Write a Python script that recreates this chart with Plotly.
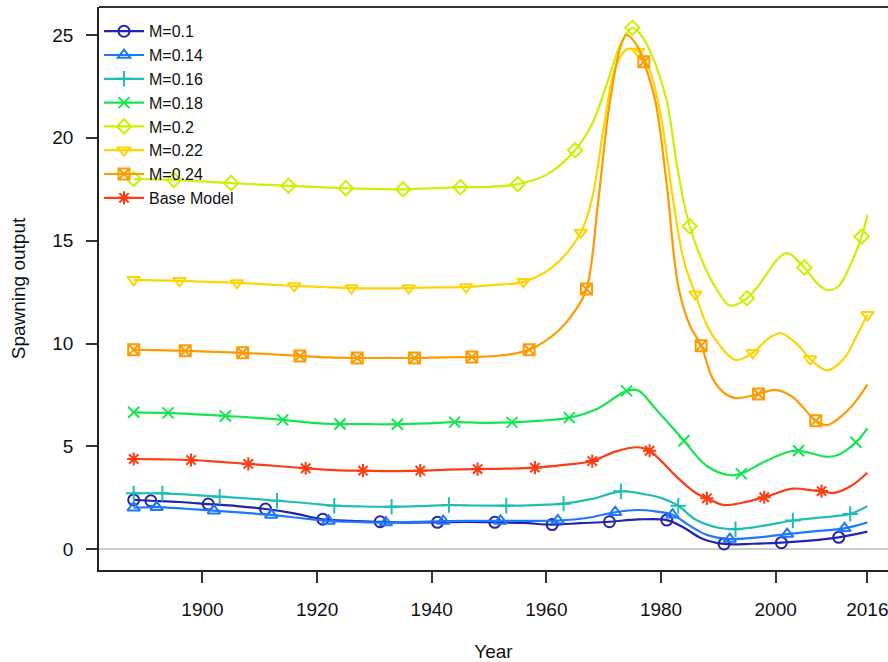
import plotly.graph_objects as go

# ---------------- data ----------------
series_names = ["M=0.1", "M=0.14", "M=0.16", "M=0.18", "M=0.2", "M=0.22", "M=0.24", "Base Model"]
series_colors = ["#2323B0", "#1E78FF", "#20BDB5", "#14E650", "#CCF000", "#FFD400", "#FF9A00", "#FF3C14"]
series_symbols = ["circle-open", "triangle-up-open", "cross-thin-open", "x-thin-open",
                  "diamond-open", "triangle-down-open", "square-x-open", "asterisk-open"]

m010_years = [1888, 1891, 1896, 1901, 1906, 1911, 1916, 1921, 1926, 1931, 1936, 1941, 1946, 1951,
              1956, 1961, 1966, 1971, 1976, 1981, 1984, 1987, 1991, 1996, 2001, 2006, 2011, 2016]
m010_vals = [2.40, 2.36, 2.30, 2.20, 2.10, 1.96, 1.75, 1.46, 1.38, 1.34, 1.30, 1.31, 1.33, 1.31,
             1.28, 1.20, 1.27, 1.34, 1.45, 1.42, 1.05, 0.54, 0.26, 0.27, 0.32, 0.42, 0.58, 0.86]
m010_marks = [1888, 1891, 1901, 1911, 1921, 1931, 1941, 1951, 1961, 1971, 1981, 1991, 2001, 2011]

m014_years = [1888, 1892, 1897, 1902, 1907, 1912, 1917, 1922, 1927, 1932, 1937, 1942, 1947, 1952,
              1957, 1962, 1967, 1972, 1976, 1979, 1982, 1985, 1988, 1992, 1997, 2002, 2007, 2012, 2016]
m014_vals = [2.02, 2.05, 1.97, 1.88, 1.78, 1.67, 1.52, 1.38, 1.33, 1.30, 1.33, 1.37, 1.38, 1.38,
             1.38, 1.40, 1.52, 1.80, 1.91, 1.84, 1.68, 1.15, 0.70, 0.50, 0.58, 0.74, 0.88, 1.02, 1.30]
m014_marks = [1888, 1892, 1902, 1912, 1922, 1932, 1942, 1952, 1962, 1972, 1982, 1992, 2002, 2012]

m016_years = [1888, 1893, 1898, 1903, 1908, 1913, 1918, 1923, 1928, 1933, 1938, 1943, 1948, 1953,
              1958, 1963, 1968, 1973, 1977, 1980, 1983, 1986, 1990, 1993, 1998, 2003, 2008, 2013, 2016]
m016_vals = [2.72, 2.72, 2.65, 2.56, 2.47, 2.36, 2.25, 2.12, 2.08, 2.07, 2.10, 2.15, 2.13, 2.12,
             2.15, 2.22, 2.45, 2.82, 2.68, 2.50, 2.12, 1.45, 1.05, 0.98, 1.15, 1.40, 1.55, 1.72, 2.10]
m016_marks = [1888, 1893, 1903, 1913, 1923, 1933, 1943, 1953, 1963, 1973, 1983, 1993, 2003, 2013]

m018_years = [1888, 1894, 1899, 1904, 1909, 1914, 1919, 1924, 1929, 1934, 1939, 1944, 1949, 1954,
              1959, 1964, 1969, 1974, 1976, 1979, 1984, 1988, 1992, 1994, 1998, 2002, 2004, 2006,
              2009, 2011, 2014, 2016]
m018_vals = [6.66, 6.63, 6.56, 6.48, 6.40, 6.29, 6.15, 6.09, 6.08, 6.08, 6.12, 6.18, 6.15, 6.17,
             6.25, 6.40, 6.85, 7.70, 7.72, 6.85, 5.28, 4.05, 3.60, 3.68, 4.25, 4.72, 4.79, 4.68,
             4.50, 4.60, 5.20, 5.88]
m018_marks = [1888, 1894, 1904, 1914, 1924, 1934, 1944, 1954, 1964, 1974, 1984, 1994, 2004, 2014]

m020_years = [1888, 1895, 1900, 1905, 1910, 1915, 1920, 1925, 1930, 1935, 1940, 1945, 1950, 1955,
              1960, 1965, 1968, 1971, 1973, 1975, 1977, 1979, 1981, 1983, 1985, 1988, 1990, 1992,
              1995, 1998, 2000, 2002, 2005, 2007, 2009, 2011, 2013, 2015, 2016]
m020_vals = [18.00, 17.95, 17.88, 17.80, 17.73, 17.67, 17.60, 17.55, 17.52, 17.50, 17.55, 17.60,
             17.62, 17.75, 18.20, 19.40, 20.70, 23.00, 24.60, 25.35, 24.80, 23.60, 21.80, 18.30,
             15.70, 13.50, 12.50, 11.85, 12.20, 13.20, 14.00, 14.40, 13.70, 13.00, 12.60, 12.80,
             13.80, 15.20, 16.25]
m020_marks = [1888, 1895, 1905, 1915, 1925, 1935, 1945, 1955, 1965, 1975, 1985, 1995, 2005, 2015]

m022_years = [1888, 1896, 1901, 1906, 1911, 1916, 1921, 1926, 1931, 1936, 1941, 1946, 1951, 1956,
              1961, 1966, 1968, 1970, 1972, 1974, 1976, 1978, 1980, 1982, 1984, 1986, 1988, 1990,
              1993, 1996, 1999, 2001, 2004, 2006, 2009, 2012, 2014, 2016]
m022_vals = [13.10, 13.05, 13.00, 12.95, 12.88, 12.80, 12.75, 12.70, 12.68, 12.70, 12.73, 12.75,
             12.85, 13.00, 13.70, 15.40, 17.10, 20.50, 23.40, 24.30, 24.20, 23.30, 21.00, 17.20,
             14.00, 12.40, 10.90, 10.00, 9.20, 9.55, 10.30, 10.50, 9.90, 9.25, 8.70, 9.30,
             10.30, 11.40]
m022_marks = [1888, 1896, 1906, 1916, 1926, 1936, 1946, 1956, 1966, 1976, 1986, 1996, 2006, 2016]

m024_years = [1888, 1892, 1897, 1902, 1907, 1912, 1917, 1922, 1927, 1932, 1937, 1942, 1947, 1952,
              1957, 1962, 1965, 1967, 1969, 1971, 1973, 1974, 1976, 1977, 1979, 1981, 1983, 1985,
              1987, 1989, 1991, 1993, 1997, 2000, 2003, 2007, 2009, 2012, 2014, 2016]
m024_vals = [9.70, 9.68, 9.65, 9.60, 9.55, 9.48, 9.40, 9.33, 9.30, 9.30, 9.30, 9.33, 9.35, 9.42,
             9.70, 10.60, 11.60, 12.65, 16.80, 21.60, 24.50, 25.00, 24.40, 23.70, 21.80, 17.70,
             12.80, 10.90, 9.90, 8.30, 7.60, 7.35, 7.55, 7.75, 7.40, 6.25, 6.04, 6.60, 7.20, 8.00]
m024_marks = [1888, 1897, 1907, 1917, 1927, 1937, 1947, 1957, 1967, 1977, 1987, 1997, 2007]

base_years = [1888, 1893, 1898, 1903, 1908, 1913, 1918, 1923, 1928, 1933, 1938, 1943, 1948, 1953,
              1958, 1963, 1968, 1972, 1976, 1978, 1980, 1983, 1986, 1988, 1991, 1994, 1998, 2003,
              2006, 2008, 2010, 2013, 2016]
base_vals = [4.39, 4.37, 4.34, 4.25, 4.15, 4.05, 3.94, 3.85, 3.82, 3.80, 3.82, 3.87, 3.90, 3.92,
             3.97, 4.10, 4.29, 4.75, 4.96, 4.79, 4.30, 3.45, 2.75, 2.48, 2.15, 2.25, 2.53, 2.95,
             2.88, 2.83, 2.73, 3.05, 3.72]
base_marks = [1888, 1898, 1908, 1918, 1928, 1938, 1948, 1958, 1968, 1978, 1988, 1998, 2008]

x_tick_vals = [1900, 1920, 1940, 1960, 1980, 2000, 2016]
y_tick_vals = [0, 5, 10, 15, 20, 25]

series_years = [m010_years, m014_years, m016_years, m018_years, m020_years, m022_years, m024_years, base_years]
series_vals = [m010_vals, m014_vals, m016_vals, m018_vals, m020_vals, m022_vals, m024_vals, base_vals]
series_marks = [m010_marks, m014_marks, m016_marks, m018_marks, m020_marks, m022_marks, m024_marks, base_marks]

FONT = "Liberation Sans, Arial, sans-serif"

fig = go.Figure()

# lines and markers
for name, col, sym, yrs, vals, marks in zip(series_names, series_colors, series_symbols,
                                             series_years, series_vals, series_marks):
    fig.add_trace(go.Scatter(x=yrs, y=vals, mode="lines",
                             line=dict(color=col, width=2.2, shape="spline", smoothing=1.0),
                             showlegend=False, hoverinfo="skip"))
    lookup = dict(zip(yrs, vals))
    fig.add_trace(go.Scatter(x=marks, y=[lookup[m] for m in marks], mode="markers",
                             marker=dict(symbol=sym, size=11, color=col, line=dict(color=col, width=2)),
                             showlegend=False, hoverinfo="skip"))

# legend entries (line + marker)
for name, col, sym in zip(series_names, series_colors, series_symbols):
    fig.add_trace(go.Scatter(x=[None], y=[None], mode="lines+markers", name=name,
                             line=dict(color=col, width=2.2),
                             marker=dict(symbol=sym, size=11, color=col, line=dict(color=col, width=2))))

fig.update_layout(
    width=888, height=662,
    margin=dict(l=99, r=0, t=7, b=92, autoexpand=False),
    paper_bgcolor="white", plot_bgcolor="white",
    font=dict(family=FONT, color="#111111"),
    showlegend=True,
    legend=dict(x=0.0, y=0.987, xanchor="left", yanchor="top", bgcolor="rgba(255,255,255,0)",
                font=dict(size=16, family=FONT, color="#111111"), itemwidth=40,
                tracegroupgap=0),
    xaxis=dict(range=[1881.95, 2019.6], tickvals=x_tick_vals, ticktext=[str(v) for v in x_tick_vals],
               automargin=False, ticklabeloverflow="allow",
               showgrid=False, zeroline=False, showline=True, linecolor="#222222", linewidth=1.5,
               ticks="outside", ticklen=11, tickwidth=1.5, tickcolor="#333333",
               tickfont=dict(size=19, family=FONT, color="#111111"), ticklabelstandoff=10,
               title=dict(text="Year", font=dict(size=19, family=FONT, color="#111111"), standoff=28)),
    yaxis=dict(range=[-1.006, 26.36], tickvals=y_tick_vals, ticktext=[str(v) for v in y_tick_vals],
               automargin=False, ticklabeloverflow="allow",
               showgrid=False, zeroline=True, zerolinecolor="#CCCCCC", zerolinewidth=1.5,
               showline=True, linecolor="#222222", linewidth=1.5,
               ticks="outside", ticklen=11, tickwidth=1.5, tickcolor="#333333",
               tickfont=dict(size=19, family=FONT, color="#111111"), ticklabelstandoff=9,
               title=dict(text="Spawning output", font=dict(size=19, family=FONT, color="#111111"), standoff=22)),
    shapes=[dict(type="line", xref="paper", yref="paper", x0=0, x1=1, y0=1, y1=1,
                 line=dict(color="#333333", width=2))],
)

fig.write_html("out.html", config={"displayModeBar": False},
               post_script="document.body.style.margin='0';document.body.style.overflow='hidden';")
